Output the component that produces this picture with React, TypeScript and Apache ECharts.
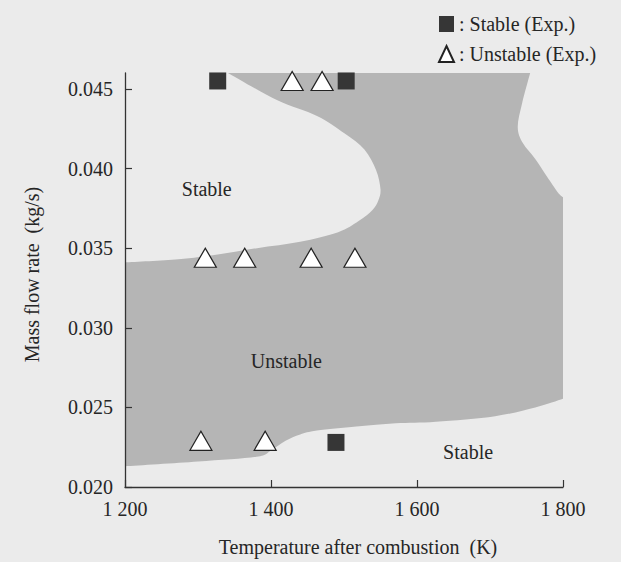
import React, { useEffect, useRef } from "react";
import * as echarts from "echarts";

// ---- data ----
const xTicks = [1200, 1400, 1600, 1800];
const yTicks = [0.02, 0.025, 0.03, 0.035, 0.04, 0.045];

// Experimental points [temperature K, mass flow kg/s]
const stableExp = [
  [1327, 0.0455],
  [1503, 0.0455],
  [1489, 0.0228],
];
const unstableExp = [
  [1429, 0.0455],
  [1470, 0.0455],
  [1310, 0.0344],
  [1364, 0.0344],
  [1455, 0.0344],
  [1515, 0.0344],
  [1304, 0.0229],
  [1392, 0.0229],
];

// Boundary of the (grey) unstable region
const upperLeftBoundary = [
  [1200, 0.0341],
  [1273, 0.0343],
  [1327, 0.0346],
  [1381, 0.035],
  [1440, 0.0354],
  [1492, 0.036],
  [1520, 0.0367],
  [1539, 0.0374],
  [1547, 0.038],
  [1550, 0.0387],
  [1544, 0.0399],
  [1528, 0.0412],
  [1501, 0.0422],
  [1463, 0.0433],
  [1408, 0.0443],
  [1341, 0.046],
];
const rightBoundary = [
  [1755, 0.046],
  [1744, 0.0441],
  [1738, 0.0426],
  [1745, 0.0416],
  [1762, 0.0406],
  [1778, 0.0395],
  [1793, 0.0385],
  [1800, 0.0382],
];
const lowerBoundary = [
  [1800, 0.02555],
  [1762, 0.025],
  [1707, 0.02445],
  [1626, 0.0241],
  [1571, 0.024],
  [1517, 0.0238],
  [1463, 0.02355],
  [1440, 0.0233],
  [1420, 0.0229],
  [1400, 0.0223],
  [1380, 0.0219],
  [1300, 0.0216],
  [1200, 0.0213],
];

const regionLabelNames = ["Stable", "Unstable", "Stable"];
const regionLabelPoints = [
  [1312, 0.0387],
  [1421, 0.0279],
  [1670, 0.0222],
];

const FONT = "'Liberation Serif', 'Times New Roman', serif";
const TEXT = "#262626";

function curveTo(pts: number[][]): string {
  let s = "";
  for (let i = 0; i < pts.length - 1; i++) {
    const p0 = pts[Math.max(i - 1, 0)];
    const p1 = pts[i];
    const p2 = pts[i + 1];
    const p3 = pts[Math.min(i + 2, pts.length - 1)];
    const c1 = [p1[0] + (p2[0] - p0[0]) / 6, p1[1] + (p2[1] - p0[1]) / 6];
    const c2 = [p2[0] - (p3[0] - p1[0]) / 6, p2[1] - (p3[1] - p1[1]) / 6];
    s += ` C${c1[0]},${c1[1]} ${c2[0]},${c2[1]} ${p2[0]},${p2[1]}`;
  }
  return s;
}

export default function App() {
  const ref = useRef<HTMLDivElement>(null);

  useEffect(() => {
    if (!ref.current) return;
    const chart = echarts.init(ref.current, undefined, { renderer: "svg" });

    const renderRegion = (_params: any, api: any) => {
      const ul = upperLeftBoundary.map((p) => api.coord(p));
      const rb = rightBoundary.map((p) => api.coord(p));
      const lb = lowerBoundary.map((p) => api.coord(p));
      let d = `M${ul[0][0]},${ul[0][1]}`;
      d += curveTo(ul);
      d += ` L${rb[0][0]},${rb[0][1]}`;
      d += curveTo(rb);
      d += ` L${lb[0][0]},${lb[0][1]}`;
      d += curveTo(lb);
      d += " Z";
      return {
        type: "path",
        shape: { pathData: d },
        style: { fill: "#b5b5b5", stroke: "none" },
        silent: true,
      };
    };

    chart.setOption({
      animation: false,
      backgroundColor: "#ebebeb",
      textStyle: { fontFamily: FONT, color: TEXT },
      grid: { left: 125, right: 58, top: 73, bottom: 74, containLabel: false },
      legend: {
        data: ["Stable (Exp.)", "Unstable (Exp.)"],
        orient: "vertical",
        left: 433,
        top: 9,
        itemWidth: 15,
        itemHeight: 16,
        itemGap: 10,
        formatter: (n: string) => ": " + n,
        textStyle: { fontFamily: FONT, fontSize: 20, color: TEXT },
        selectedMode: false,
      },
      xAxis: {
        type: "value",
        min: 1200,
        max: 1800,
        interval: 200,
        z: 10,
        name: "Temperature after combustion  (K)",
        nameLocation: "middle",
        nameGap: 50,
        nameTextStyle: { fontFamily: FONT, fontSize: 20, color: TEXT, padding: [0, 0, 0, 28] },
        axisLine: { show: true, lineStyle: { color: "#333", width: 1.3 } },
        axisTick: { show: true, inside: true, length: 7, customValues: xTicks, lineStyle: { color: "#333", width: 1.2 } },
        axisLabel: {
          customValues: xTicks,
          margin: 12,
          fontFamily: FONT,
          fontSize: 20,
          color: TEXT,
          formatter: (v: number) => String(Math.round(v)).replace(/(\d)(\d{3})$/, "$1 $2"),
        },
        splitLine: { show: false },
      },
      yAxis: {
        type: "value",
        min: 0.02,
        max: 0.046,
        interval: 0.005,
        z: 10,
        name: "Mass flow rate  (kg/s)",
        nameLocation: "middle",
        nameGap: 83,
        nameTextStyle: { fontFamily: FONT, fontSize: 20, color: TEXT, padding: [0, 0, 0, 11] },
        axisLine: { show: true, lineStyle: { color: "#333", width: 1.3 } },
        axisTick: { show: true, inside: true, length: 7, customValues: yTicks, lineStyle: { color: "#333", width: 1.2 } },
        axisLabel: {
          customValues: yTicks,
          margin: 12,
          fontFamily: FONT,
          fontSize: 20,
          color: TEXT,
          formatter: (v: number) => v.toFixed(3),
        },
        splitLine: { show: false },
      },
      series: [
        {
          type: "custom",
          name: "region",
          coordinateSystem: "cartesian2d",
          renderItem: renderRegion,
          data: [[1200, 0.02]],
          z: 1,
          silent: true,
          clip: false,
        },
        {
          type: "scatter",
          name: "labels",
          data: regionLabelPoints.map((p, i) => ({ value: p, name: regionLabelNames[i] })),
          symbolSize: 2,
          itemStyle: { color: "rgba(0,0,0,0)" },
          silent: true,
          z: 2,
          label: {
            show: true,
            position: "inside",
            formatter: (p: any) => p.name,
            fontFamily: FONT,
            fontSize: 20,
            color: TEXT,
            opacity: 1,
            textBorderWidth: 0,
          },
        },
        {
          type: "scatter",
          name: "Stable (Exp.)",
          data: stableExp,
          symbol: "rect",
          symbolSize: [17, 17],
          itemStyle: { color: "#363636", opacity: 1 },
          z: 3,
        },
        {
          type: "scatter",
          name: "Unstable (Exp.)",
          data: unstableExp,
          symbol: "triangle",
          symbolSize: [22, 19],
          itemStyle: { color: "#ffffff", borderColor: "#222", borderWidth: 1.2, opacity: 1 },
          z: 3,
        },
      ],
    });

    return () => chart.dispose();
  }, []);

  return (
    <div
      ref={ref}
      style={{ position: "fixed", left: 0, top: 0, width: 621, height: 562 }}
    />
  );
}
